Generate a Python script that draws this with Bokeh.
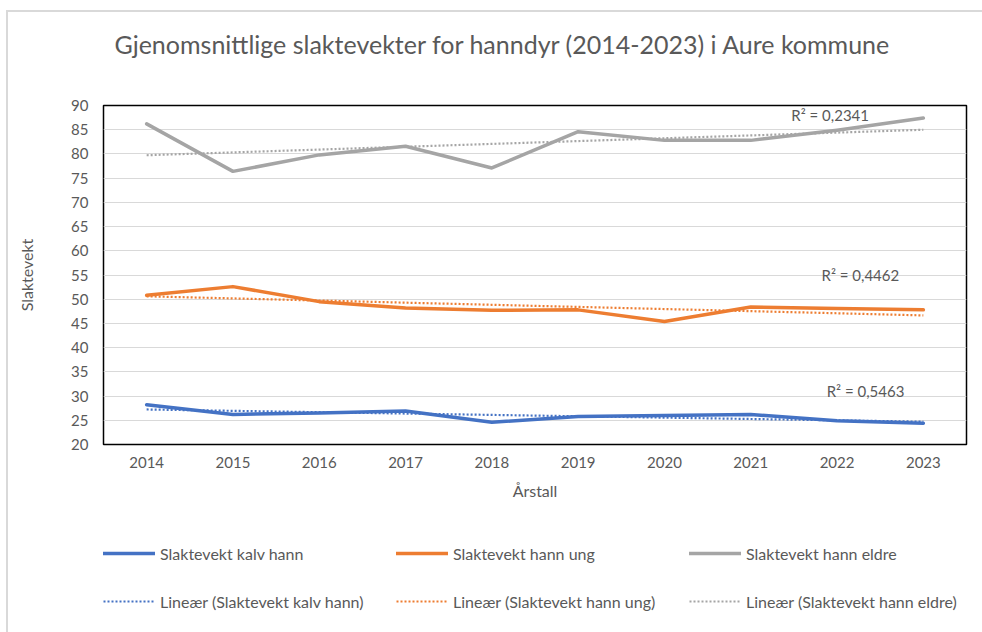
import numpy as np
from bokeh.plotting import figure
from bokeh.layouts import column
from bokeh.models import (ColumnDataSource, Legend, LegendItem, Label, Title,
                          FixedTicker, Range1d)
from bokeh.embed import file_html
from bokeh.resources import INLINE

# ---- data ----
years = [2014, 2015, 2016, 2017, 2018, 2019, 2020, 2021, 2022, 2023]
kalv_hann = [28.2, 26.2, 26.5, 26.9, 24.6, 25.8, 26.0, 26.2, 24.9, 24.4]
hann_ung = [50.8, 52.6, 49.5, 48.2, 47.7, 47.8, 45.4, 48.4, 48.1, 47.8]
hann_eldre = [86.2, 76.4, 79.8, 81.6, 77.1, 84.6, 82.8, 82.8, 84.9, 87.4]
series_names = ["Slaktevekt kalv hann", "Slaktevekt hann ung", "Slaktevekt hann eldre"]
trend_names = ["Lineær (Slaktevekt kalv hann)", "Lineær (Slaktevekt hann ung)",
               "Lineær (Slaktevekt hann eldre)"]
r2_labels = ["R² = 0,5463", "R² = 0,4462", "R² = 0,2341"]
y_ticks = [20, 25, 30, 35, 40, 45, 50, 55, 60, 65, 70, 75, 80, 85, 90]
title_text = "Gjenomsnittlige slaktevekter for hanndyr (2014-2023) i Aure kommune"

colors = ["#4472C4", "#ED7D31", "#A5A5A5"]
FONT = "Lato"
TXT = "#595959"

# ---- main chart ----
p = figure(width=974, height=510, output_backend="svg", toolbar_location=None,
           x_range=Range1d(2013.5, 2023.5), y_range=Range1d(20, 90),
           min_border_left=95, min_border_right=16, min_border_top=93,
           min_border_bottom=78)
p.outline_line_color = "black"
p.outline_line_width = 1.5
p.background_fill_color = "white"
p.border_fill_color = "white"

p.title.text = title_text
p.title.align = "left"
p.title.offset = 11
p.title.text_font = FONT
p.title.text_font_size = "25px"
p.title.text_font_style = "normal"
p.title.text_color = TXT
p.title.standoff = 0
# spacer between the title and the plot area
p.add_layout(Title(text=" ", text_font_size="1px", standoff=44), "above")

p.xgrid.grid_line_color = None
p.ygrid.grid_line_color = "#d9d9d9"
p.ygrid.grid_line_width = 1.2

p.xaxis.ticker = FixedTicker(ticks=years)
p.yaxis.ticker = FixedTicker(ticks=y_ticks)
for ax in (p.xaxis[0], p.yaxis[0]):
    ax.axis_line_color = None
    ax.major_tick_line_color = None
    ax.minor_tick_line_color = None
    ax.major_tick_out = 0
    ax.major_tick_in = 0
    ax.minor_tick_out = 0
    ax.major_label_text_font = FONT
    ax.major_label_text_font_size = "15px"
    ax.major_label_text_color = TXT
    ax.axis_label_text_font = FONT
    ax.axis_label_text_font_size = "16px"
    ax.axis_label_text_font_style = "normal"
    ax.axis_label_text_color = TXT
p.xaxis.axis_label = "Årstall"
p.yaxis.axis_label = "Slaktevekt"
p.xaxis.major_label_standoff = 12
p.yaxis.major_label_standoff = 15
p.xaxis.axis_label_standoff = 10
p.yaxis.axis_label_standoff = 32

# ---- legend strip (shares the same data sources) ----
pl = figure(width=974, height=110, output_backend="svg", toolbar_location=None,
            x_range=Range1d(0, 974), y_range=Range1d(0, 110),
            min_border_left=0, min_border_right=0, min_border_top=0,
            min_border_bottom=0)
pl.axis.visible = False
pl.grid.visible = False
pl.outline_line_color = None
pl.background_fill_color = "white"
pl.border_fill_color = "white"

all_series = [kalv_hann, hann_ung, hann_eldre]
x_arr = np.array(years, dtype=float)
main_items, trend_items = [], []
for vals, col, name, tname in zip(all_series, colors, series_names, trend_names):
    coef = np.polyfit(x_arr, np.array(vals), 1)
    fit = np.polyval(coef, x_arr)
    src = ColumnDataSource(dict(x=years, y=vals, fit=fit))
    trend_style = dict(line_color=col, line_width=2.2, line_dash="2 2")
    main_style = dict(line_color=col, line_width=3.5, line_cap="round",
                      line_join="round")
    p.line("x", "fit", source=src, **trend_style)
    p.line("x", "y", source=src, **main_style)
    lt = pl.line("x", "fit", source=src, visible=False, **trend_style)
    lm = pl.line("x", "y", source=src, visible=False, **main_style)
    main_items.append(LegendItem(label=name, renderers=[lm]))
    trend_items.append(LegendItem(label=tname, renderers=[lt]))

# R² labels
r2_pos = [(2021.88, 31.0), (2021.82, 54.9), (2021.47, 87.95)]
for (lx, ly), txt in zip(r2_pos, r2_labels):
    p.add_layout(Label(x=lx, y=ly, text=txt, text_font=FONT, text_font_size="15px",
                       text_color=TXT, text_baseline="middle", text_align="left"))

legend_style = dict(orientation="horizontal", padding=0, margin=0, spacing=30,
                    label_height=20, glyph_height=20, glyph_width=52,
                    label_standoff=5, label_width=206,
                    label_text_font=FONT, label_text_font_size="16px",
                    label_text_color=TXT, border_line_alpha=0,
                    background_fill_alpha=0, inactive_fill_alpha=0)
legend1 = Legend(items=main_items, location=(0, 69), **legend_style)
legend2 = Legend(items=trend_items, location=(0, 21), **legend_style)
pl.add_layout(legend1)
pl.add_layout(legend2)

layout = column(p, pl, spacing=0)
layout.styles = {"margin-left": "6px", "margin-top": "10px",
                 "border-left": "2px solid #d9d9d9", "border-top": "2px solid #d9d9d9"}

open("out.html", "w").write(file_html(layout, INLINE))
